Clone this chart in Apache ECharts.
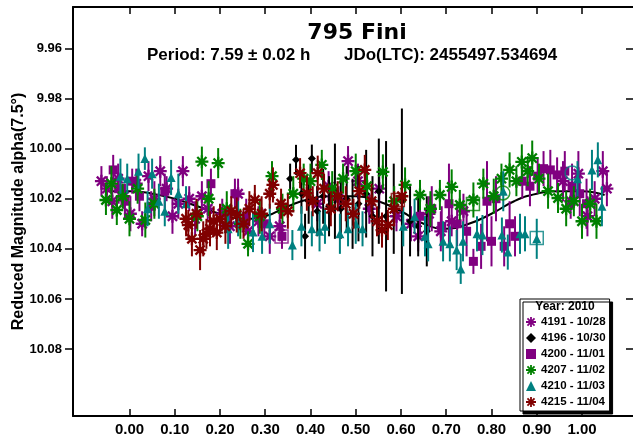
<!DOCTYPE html>
<html>
<head>
<meta charset="utf-8">
<script src="https://cdn.jsdelivr.net/npm/echarts@6/dist/echarts.min.js"></script>
<style>
html, body { margin: 0; padding: 0; background: #fff; }
#chart { width: 633px; height: 441px; }
</style>
</head>
<body>
<div id="chart"></div>
<script>
// ---- Lightcurve of 795 Fini, phased to P = 7.59 h ----

const sessionNames = ['4191 - 10/28', '4196 - 10/30', '4200 - 11/01', '4207 - 11/02', '4210 - 11/03', '4215 - 11/04'];

// Session 4191 (10/28)
const p4191 = [-0.062, -0.050, -0.038, -0.025, -0.012, 0.002, 0.015, 0.028, 0.042, 0.055, 0.068, 0.082, 0.095, 0.108, 0.118, 0.132, 0.145, 0.160, 0.173, 0.205, 0.222, 0.240, 0.262, 0.285, 0.310, 0.332, 0.415, 0.440, 0.462, 0.483, 0.505, 0.530, 0.552, 0.590, 0.622, 0.638, 0.662, 0.688, 0.712, 0.738, 0.958, 0.975, 0.992, 1.012, 1.028, 1.046, 1.055];
const m4191 = [10.013, 10.016, 10.021, 10.012, 10.019, 10.026, 10.014, 10.030, 10.011, 10.020, 10.009, 10.016, 10.027, 10.022, 10.009, 10.020, 10.028, 10.019, 10.024, 10.026, 10.031, 10.018, 10.033, 10.029, 10.035, 10.031, 10.022, 10.015, 10.020, 10.005, 10.013, 10.024, 10.016, 10.027, 10.030, 10.035, 10.026, 10.033, 10.029, 10.025, 10.013, 10.021, 10.010, 10.027, 10.020, 10.009, 10.016];
const e4191 = [0.006, 0.005, 0.007, 0.006, 0.005, 0.007, 0.006, 0.005, 0.006, 0.007, 0.006, 0.005, 0.007, 0.006, 0.006, 0.005, 0.007, 0.006, 0.005, 0.006, 0.007, 0.006, 0.005, 0.006, 0.007, 0.006, 0.007, 0.006, 0.005, 0.006, 0.007, 0.006, 0.008, 0.006, 0.007, 0.006, 0.007, 0.008, 0.006, 0.007, 0.008, 0.007, 0.009, 0.008, 0.007, 0.008, 0.007];

// Session 4196 (10/30)
const p4196 = [0.355, 0.368, 0.380, 0.388, 0.396, 0.403, 0.415, 0.428, 0.441, 0.454, 0.467, 0.480, 0.493, 0.506, 0.523, 0.537, 0.551, 0.567, 0.584, 0.602, 0.620, 0.638, 0.657];
const m4196 = [10.012, 10.0045, 10.018, 10.035, 10.021, 10.004, 10.025, 10.019, 10.023, 10.017, 10.024, 10.020, 10.026, 10.022, 10.018, 10.027, 10.017, 10.027, 10.024, 10.021, 10.029, 10.031, 10.033];
const e4196 = [0.006, 0.006, 0.008, 0.009, 0.009, 0.0056, 0.010, 0.011, 0.012, 0.019, 0.012, 0.013, 0.014, 0.015, 0.0175, 0.016, 0.021, 0.030, 0.018, 0.037, 0.014, 0.012, 0.014];

// Session 4200 (11/01)
const p4200 = [-0.036, -0.024, -0.010, 0.006, 0.022, 0.048, 0.078, 0.180, 0.233, 0.258, 0.298, 0.337, 0.642, 0.668, 0.690, 0.706, 0.724, 0.745, 0.760, 0.777, 0.790, 0.800, 0.810, 0.828, 0.840, 0.852, 0.868, 0.885, 0.902, 0.915, 0.930, 0.945, 0.962, 0.978, 0.995, 1.010];
const m4200 = [10.0085, 10.016, 10.021, 10.013, 10.019, 10.023, 10.017, 10.014, 10.018, 10.027, 10.030, 10.035, 10.027, 10.024, 10.031, 10.022, 10.030, 10.033, 10.045, 10.039, 10.021, 10.037, 10.020, 10.039, 10.030, 10.035, 10.013, 10.015, 10.011, 10.008, 10.0085, 10.0105, 10.009, 10.015, 10.018, 10.022];
const e4200 = [0.006, 0.006, 0.007, 0.005, 0.006, 0.006, 0.007, 0.006, 0.006, 0.007, 0.006, 0.005, 0.008, 0.009, 0.008, 0.016, 0.009, 0.010, 0.005, 0.009, 0.016, 0.010, 0.009, 0.008, 0.009, 0.008, 0.007, 0.008, 0.007, 0.007, 0.008, 0.007, 0.008, 0.009, 0.009, 0.010];

// Session 4207 (11/02)
const p4207 = [-0.052, -0.040, -0.028, -0.015, 0.000, 0.018, 0.035, 0.055, 0.150, 0.160, 0.175, 0.196, 0.215, 0.245, 0.262, 0.288, 0.315, 0.338, 0.362, 0.385, 0.400, 0.425, 0.448, 0.472, 0.500, 0.525, 0.560, 0.585, 0.609, 0.642, 0.665, 0.686, 0.712, 0.730, 0.760, 0.782, 0.805, 0.822, 0.840, 0.855, 0.867, 0.880, 0.890, 0.905, 0.925, 0.947, 0.965, 0.982, 1.000, 1.018, 1.032];
const m4207 = [10.0205, 10.014, 10.0245, 10.019, 10.028, 10.016, 10.0285, 10.022, 10.027, 10.0052, 10.020, 10.0058, 10.024, 10.030, 10.038, 10.027, 10.011, 10.024, 10.018, 10.012, 10.013, 10.0065, 10.016, 10.012, 10.009, 10.015, 10.0093, 10.021, 10.0145, 10.0185, 10.024, 10.0185, 10.0153, 10.0225, 10.0205, 10.014, 10.019, 10.012, 10.0085, 10.013, 10.0053, 10.009, 10.0038, 10.012, 10.017, 10.0197, 10.024, 10.021, 10.029, 10.022, 10.029];
const e4207 = [0.006, 0.007, 0.006, 0.005, 0.007, 0.006, 0.007, 0.006, 0.006, 0.006, 0.007, 0.006, 0.007, 0.006, 0.005, 0.007, 0.006, 0.006, 0.007, 0.006, 0.007, 0.006, 0.007, 0.006, 0.007, 0.006, 0.007, 0.006, 0.007, 0.006, 0.007, 0.006, 0.007, 0.006, 0.007, 0.006, 0.007, 0.006, 0.007, 0.006, 0.007, 0.006, 0.007, 0.006, 0.007, 0.006, 0.007, 0.006, 0.007, 0.006, 0.007];

// Session 4210 (11/03)
const p4210 = [-0.020, -0.005, 0.020, 0.034, 0.040, 0.050, 0.065, 0.078, 0.092, 0.108, 0.125, 0.218, 0.240, 0.273, 0.293, 0.310, 0.360, 0.380, 0.403, 0.420, 0.432, 0.465, 0.483, 0.500, 0.515, 0.605, 0.630, 0.653, 0.660, 0.693, 0.708, 0.723, 0.732, 0.737, 0.768, 0.780, 0.823, 0.826, 0.836, 0.863, 0.874, 0.900, 0.990, 1.022, 1.035, 1.044];
const m4210 = [10.011, 10.012, 10.009, 10.004, 10.024, 10.010, 10.021, 10.025, 10.0115, 10.018, 10.022, 10.032, 10.028, 10.0333, 10.035, 10.030, 10.0385, 10.031, 10.032, 10.033, 10.031, 10.034, 10.032, 10.030, 10.032, 10.031, 10.027, 10.035, 10.038, 10.037, 10.038, 10.0405, 10.048, 10.037, 10.034, 10.0345, 10.0345, 10.017, 10.0413, 10.034, 10.034, 10.036, 10.012, 10.0085, 10.0045, 10.023];
const e4210 = [0.007, 0.006, 0.007, 0.0045, 0.007, 0.006, 0.007, 0.006, 0.007, 0.008, 0.007, 0.008, 0.007, 0.008, 0.007, 0.008, 0.006, 0.008, 0.007, 0.008, 0.007, 0.008, 0.007, 0.008, 0.007, 0.008, 0.007, 0.008, 0.007, 0.008, 0.007, 0.008, 0.006, 0.008, 0.007, 0.008, 0.007, 0.008, 0.007, 0.008, 0.007, 0.008, 0.007, 0.008, 0.007, 0.008];

// Session 4215 (11/04)
const p4215 = [0.125, 0.130, 0.138, 0.148, 0.156, 0.163, 0.170, 0.178, 0.186, 0.193, 0.200, 0.212, 0.225, 0.237, 0.252, 0.265, 0.277, 0.292, 0.310, 0.317, 0.335, 0.350, 0.377, 0.392, 0.405, 0.416, 0.430, 0.445, 0.460, 0.478, 0.495, 0.508, 0.520, 0.535, 0.547, 0.558, 0.571, 0.585, 0.602];
const m4215 = [10.028, 10.0305, 10.036, 10.026, 10.0405, 10.036, 10.034, 10.032, 10.029, 10.0335, 10.028, 10.031, 10.025, 10.0265, 10.030, 10.024, 10.0205, 10.026, 10.018, 10.0145, 10.022, 10.025, 10.0098, 10.0178, 10.021, 10.0098, 10.016, 10.024, 10.019, 10.022, 10.026, 10.017, 10.0085, 10.021, 10.029, 10.0325, 10.0305, 10.024, 10.019];
const e4215 = [0.007, 0.006, 0.007, 0.006, 0.008, 0.007, 0.006, 0.007, 0.006, 0.007, 0.006, 0.007, 0.006, 0.007, 0.006, 0.007, 0.006, 0.007, 0.006, 0.007, 0.006, 0.007, 0.006, 0.007, 0.006, 0.007, 0.006, 0.007, 0.006, 0.007, 0.006, 0.007, 0.006, 0.007, 0.006, 0.007, 0.006, 0.007, 0.006];

// Circled points (session index into sessionNames)
const ringPhase = [0.336, 0.593, 0.759, 0.825, 0.900, 0.978];
const ringMag = [10.0351, 10.0205, 10.0221, 10.0177, 10.0357, 10.0097];
const ringSession = [2, 5, 3, 3, 4, 4];
const ringShape = ['rect', 'rect', 'rect', 'circle', 'rect', 'circle'];

// Fourier fit
const fitPhase = [-0.05, 0.00, 0.05, 0.10, 0.15, 0.20, 0.25, 0.30, 0.35, 0.40, 0.45, 0.50, 0.55, 0.60, 0.65, 0.70, 0.75, 0.80, 0.85, 0.90, 0.95, 1.00, 1.05];
const fitMag = [10.017, 10.017, 10.018, 10.020, 10.023, 10.026, 10.028, 10.027, 10.023, 10.020, 10.019, 10.019, 10.021, 10.025, 10.030, 10.032, 10.030, 10.026, 10.021, 10.018, 10.017, 10.017, 10.0185];

// Axis ticks
const xTicks = [0.0, 0.1, 0.2, 0.3, 0.4, 0.5, 0.6, 0.7, 0.8, 0.9, 1.0];
const yTicks = [9.96, 9.98, 10.00, 10.02, 10.04, 10.06, 10.08];

// ---- drawing ----
const FONT = '"Liberation Sans", Arial, sans-serif';

// heavy 8-arm asterisk built from four rotated bars
function asteriskPath() {
  const w = 0.18;
  let d = '';
  [0, 45, 90, 135].forEach(function (deg) {
    const a = deg * Math.PI / 180;
    const c = Math.cos(a), s = Math.sin(a);
    const nx = -s * w, ny = c * w;
    const pts = [[c + nx, s + ny], [c - nx, s - ny], [-c - nx, -s - ny], [-c + nx, -s + ny]];
    d += 'M' + pts.map(function (p) { return p[0].toFixed(4) + ' ' + p[1].toFixed(4); }).join(' L') + ' Z ';
  });
  return 'path://' + d;
}
const STAR = asteriskPath();

const sessions = [
  { p: p4191, m: m4191, e: e4191, color: '#800080', symbol: STAR, size: 13 },
  { p: p4196, m: m4196, e: e4196, color: '#000000', symbol: 'diamond', size: 8 },
  { p: p4200, m: m4200, e: e4200, color: '#800080', symbol: 'rect', size: 9 },
  { p: p4207, m: m4207, e: e4207, color: '#008000', symbol: STAR, size: 13 },
  { p: p4210, m: m4210, e: e4210, color: '#008080', symbol: 'triangle', size: 9 },
  { p: p4215, m: m4215, e: e4215, color: '#800000', symbol: STAR, size: 13 }
];

const series = [];

series.push({
  name: 'fit',
  type: 'line',
  data: fitPhase.map(function (x, i) { return [x, fitMag[i]]; }),
  smooth: 0.5,
  showSymbol: false,
  lineStyle: { color: '#000', width: 2 },
  z: 1,
  silent: true
});

sessions.forEach(function (s, k) {
  const pts = s.p.map(function (x, i) { return [x, s.m[i], s.e[i]]; });
  series.push({
    name: sessionNames[k] + ' σ',
    type: 'custom',
    data: pts,
    encode: { x: 0, y: 1 },
    z: 2 + k * 2,
    silent: true,
    renderItem: function (params, api) {
      const x = api.value(0), y = api.value(1), e = api.value(2);
      const a = api.coord([x, y - e]);
      const b = api.coord([x, y + e]);
      return {
        type: 'line',
        shape: { x1: a[0], y1: a[1], x2: b[0], y2: b[1] },
        style: { stroke: s.color, lineWidth: 2 }
      };
    }
  });
  series.push({
    name: sessionNames[k],
    type: 'scatter',
    data: pts.map(function (d) { return [d[0], d[1]]; }),
    symbol: s.symbol,
    symbolSize: s.size,
    itemStyle: { color: s.color, opacity: 1 },
    z: 3 + k * 2
  });
});

// open markers around selected points
ringPhase.forEach(function (x, i) {
  const s = sessions[ringSession[i]];
  series.push({
    name: 'ring' + i,
    type: 'scatter',
    data: [[x, ringMag[i]]],
    symbol: ringShape[i],
    symbolSize: ringShape[i] === 'circle' ? 14 : 13,
    itemStyle: { color: 'transparent', borderColor: s.color, borderWidth: 1.5 },
    z: 20,
    silent: true
  });
});

const xMin = -0.1248, xMax = 1.1149;
const yMin = 9.9435, yMax = 10.1067;

const chart = echarts.init(document.getElementById('chart'), null, { renderer: 'canvas' });
chart.setOption({
  animation: false,
  backgroundColor: '#fff',
  grid: { left: 73, top: 7, width: 561, height: 409, containLabel: false, outerBoundsMode: 'none' },
  xAxis: [
    {
      type: 'value', position: 'bottom', min: xMin, max: xMax,
      axisLine: { show: true, onZero: false, lineStyle: { color: '#000', width: 2 } },
      axisTick: { show: true, inside: true, length: 7, lineStyle: { color: '#000', width: 1.5 }, customValues: xTicks },
      axisLabel: {
        show: true, margin: 6, customValues: xTicks,
        formatter: function (v) { return v.toFixed(2); },
        color: '#000', fontFamily: FONT, fontWeight: 'bold', fontSize: 15
      },
      splitLine: { show: false }
    },
    {
      type: 'value', position: 'top', min: xMin, max: xMax,
      axisLine: { show: true, onZero: false, lineStyle: { color: '#000', width: 2 } },
      axisTick: { show: true, inside: true, length: 7, lineStyle: { color: '#000', width: 1.5 }, customValues: xTicks },
      axisLabel: { show: false },
      splitLine: { show: false }
    }
  ],
  yAxis: [
    {
      type: 'value', position: 'left', inverse: true, min: yMin, max: yMax,
      name: 'Reduced Magnitude alpha(7.5°)',
      nameLocation: 'middle', nameGap: 46, nameRotate: 90, nameMoveOverlap: false,
      nameTextStyle: { color: '#000', fontFamily: FONT, fontWeight: 'bold', fontSize: 16 },
      axisLine: { show: true, onZero: false, lineStyle: { color: '#000', width: 2 } },
      axisTick: { show: true, inside: false, length: 8, lineStyle: { color: '#000', width: 1.5 }, customValues: yTicks },
      axisLabel: {
        show: true, margin: 11, customValues: yTicks,
        formatter: function (v) { return v.toFixed(2); },
        color: '#000', fontFamily: FONT, fontWeight: 'bold', fontSize: 13
      },
      splitLine: { show: false }
    },
    {
      type: 'value', position: 'right', inverse: true, min: yMin, max: yMax,
      axisLine: { show: true, onZero: false, lineStyle: { color: '#000', width: 2 } },
      axisTick: { show: true, inside: true, length: 8, lineStyle: { color: '#000', width: 1.5 }, customValues: yTicks },
      axisLabel: { show: false },
      splitLine: { show: false }
    }
  ],
  legend: {
    data: sessionNames,
    orient: 'vertical',
    left: 520, top: 299,
    itemWidth: 10, itemHeight: 10, itemGap: 4,
    padding: [17, 4, 3, 6],
    backgroundColor: '#fff',
    borderColor: '#000', borderWidth: 1, borderRadius: 0,
    shadowColor: '#000', shadowBlur: 0, shadowOffsetX: 3, shadowOffsetY: 3,
    selectedMode: false,
    textStyle: { color: '#000', fontFamily: FONT, fontWeight: 'bold', fontSize: 11.5 }
  },
  graphic: [
    {
      type: 'text', x: 357, y: 33, z: 100,
      style: { text: '795 Fini', font: 'bold 22px "DejaVu Sans", sans-serif', fill: '#000', align: 'center', verticalAlign: 'middle' }
    },
    {
      type: 'text', x: 147, y: 55.5, z: 100,
      style: { text: 'Period: 7.59 ± 0.02 h', font: 'bold 17px "Liberation Sans", Arial, sans-serif', fill: '#000', align: 'left', verticalAlign: 'middle' }
    },
    {
      type: 'text', x: 344, y: 55.5, z: 100,
      style: { text: 'JDo(LTC): 2455497.534694', font: 'bold 17px "Liberation Sans", Arial, sans-serif', fill: '#000', align: 'left', verticalAlign: 'middle' }
    },
    {
      type: 'text', x: 565, y: 307, z: 100,
      style: { text: 'Year: 2010', font: 'bold 12px "Liberation Sans", Arial, sans-serif', fill: '#000', align: 'center', verticalAlign: 'middle' }
    }
  ],
  series: series
});
</script>
</body>
</html>
